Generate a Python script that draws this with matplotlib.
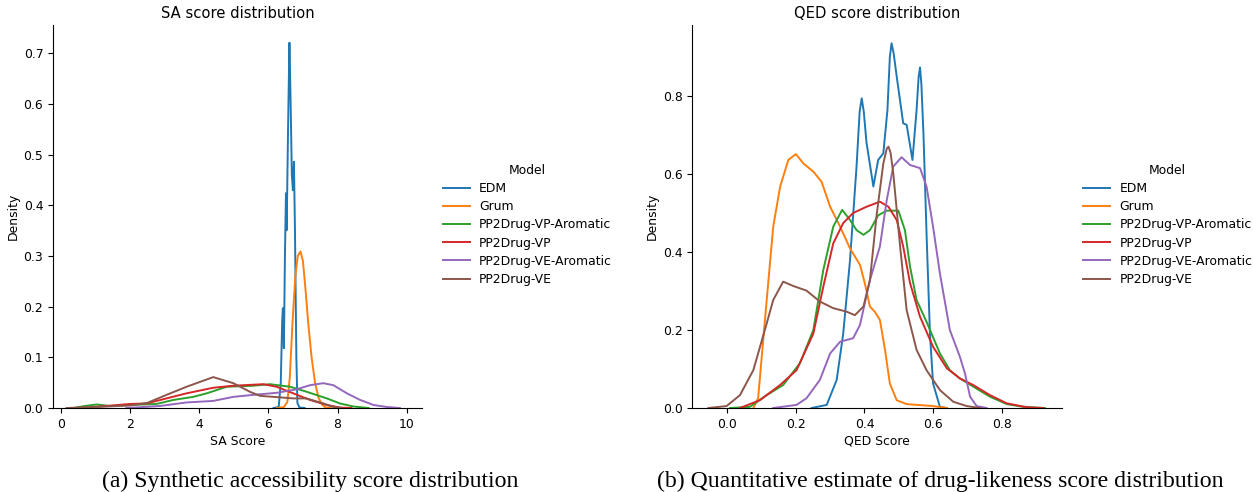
import matplotlib
matplotlib.use("Agg")
import matplotlib.pyplot as plt

# Data (density curves)
models = ["EDM", "Grum", "PP2Drug-VP-Aromatic", "PP2Drug-VP", "PP2Drug-VE-Aromatic", "PP2Drug-VE"]
colors = ["#1f77b4", "#ff7f0e", "#2ca02c", "#d62728", "#9467bd", "#8c564b"]

# SA score panel
sa_edm_x = [6.15, 6.30, 6.36, 6.40, 6.42, 6.45, 6.48, 6.51, 6.53, 6.57, 6.61, 6.64, 6.68, 6.71, 6.74, 6.77, 6.81, 6.84, 6.90, 7.05]
sa_edm_y = [0.0, 0.002, 0.05, 0.17, 0.197, 0.118, 0.30, 0.424, 0.351, 0.55, 0.721, 0.62, 0.46, 0.43, 0.486, 0.35, 0.10, 0.01, 0.001, 0.0]
sa_grum_x = [6.25, 6.45, 6.55, 6.62, 6.70, 6.78, 6.85, 6.93, 7.00, 7.08, 7.15, 7.25, 7.35, 7.45, 7.55, 7.65, 7.80]
sa_grum_y = [0.0, 0.002, 0.012, 0.06, 0.17, 0.26, 0.30, 0.309, 0.29, 0.23, 0.17, 0.10, 0.05, 0.02, 0.007, 0.001, 0.0]
sa_vpa_x = [0.37, 0.7, 1.04, 1.43, 2.0, 2.77, 3.26, 3.83, 4.22, 4.8, 5.57, 6.05, 6.63, 7.11, 7.69, 8.07, 8.46, 8.9]
sa_vpa_y = [0.0, 0.004, 0.007, 0.004, 0.006, 0.008, 0.016, 0.022, 0.029, 0.042, 0.044, 0.047, 0.042, 0.032, 0.019, 0.009, 0.003, 0.0]
sa_vp_x = [0.46, 1.14, 2.0, 2.49, 3.06, 3.64, 4.41, 4.99, 5.86, 6.24, 6.72, 7.2, 7.69, 8.07, 8.4]
sa_vp_y = [0.0, 0.003, 0.008, 0.009, 0.019, 0.029, 0.040, 0.044, 0.047, 0.042, 0.029, 0.016, 0.006, 0.001, 0.0]
sa_vea_x = [1.9, 2.87, 3.64, 4.41, 4.99, 5.57, 6.24, 6.82, 7.2, 7.59, 7.88, 8.27, 8.65, 9.04, 9.42, 9.8]
sa_vea_y = [0.0, 0.004, 0.011, 0.014, 0.022, 0.026, 0.030, 0.037, 0.045, 0.049, 0.045, 0.029, 0.016, 0.006, 0.002, 0.0]
sa_ve_x = [0.17, 1.0, 2.0, 2.5, 3.06, 3.64, 4.41, 4.99, 5.47, 5.76, 6.15, 6.72, 7.1, 7.59, 7.88, 8.1]
sa_ve_y = [0.0, 0.002, 0.005, 0.01, 0.026, 0.042, 0.061, 0.049, 0.032, 0.024, 0.022, 0.019, 0.019, 0.009, 0.002, 0.0]

# QED score panel
qed_edm_x = [0.246, 0.29, 0.319, 0.338, 0.358, 0.377, 0.386, 0.392, 0.398, 0.406, 0.426, 0.44, 0.455, 0.467, 0.474, 0.479, 0.485, 0.494, 0.513, 0.523, 0.54, 0.552, 0.558, 0.562, 0.566, 0.572, 0.581, 0.591, 0.60, 0.62, 0.64]
qed_edm_y = [0.0, 0.008, 0.072, 0.19, 0.38, 0.62, 0.76, 0.794, 0.76, 0.68, 0.568, 0.636, 0.653, 0.764, 0.90, 0.935, 0.91, 0.85, 0.73, 0.726, 0.636, 0.764, 0.85, 0.873, 0.83, 0.704, 0.448, 0.19, 0.063, 0.003, 0.0]
qed_grum_x = [0.076, 0.09, 0.115, 0.134, 0.154, 0.178, 0.20, 0.222, 0.251, 0.275, 0.30, 0.329, 0.358, 0.387, 0.401, 0.416, 0.43, 0.445, 0.46, 0.474, 0.494, 0.523, 0.60, 0.64]
qed_grum_y = [0.0, 0.025, 0.277, 0.465, 0.567, 0.636, 0.651, 0.627, 0.606, 0.58, 0.516, 0.465, 0.409, 0.367, 0.32, 0.26, 0.247, 0.226, 0.149, 0.063, 0.02, 0.01, 0.005, 0.0]
qed_vpa_x = [0.008, 0.066, 0.115, 0.163, 0.212, 0.251, 0.28, 0.309, 0.335, 0.358, 0.377, 0.397, 0.416, 0.44, 0.465, 0.499, 0.518, 0.533, 0.552, 0.581, 0.62, 0.649, 0.678, 0.717, 0.766, 0.815, 0.863, 0.926]
qed_vpa_y = [0.0, 0.003, 0.033, 0.059, 0.115, 0.20, 0.354, 0.465, 0.508, 0.482, 0.456, 0.444, 0.456, 0.494, 0.506, 0.506, 0.456, 0.362, 0.277, 0.221, 0.14, 0.097, 0.076, 0.055, 0.029, 0.01, 0.003, 0.0]
qed_vp_x = [0.037, 0.095, 0.154, 0.202, 0.251, 0.28, 0.309, 0.338, 0.367, 0.406, 0.445, 0.47, 0.494, 0.513, 0.533, 0.562, 0.60, 0.64, 0.678, 0.717, 0.766, 0.815, 0.873, 0.92]
qed_vp_y = [0.0, 0.02, 0.059, 0.097, 0.191, 0.311, 0.422, 0.474, 0.50, 0.516, 0.529, 0.516, 0.482, 0.414, 0.32, 0.234, 0.157, 0.102, 0.076, 0.059, 0.033, 0.012, 0.002, 0.0]
qed_vea_x = [0.134, 0.202, 0.231, 0.27, 0.30, 0.329, 0.367, 0.387, 0.416, 0.445, 0.465, 0.484, 0.508, 0.533, 0.562, 0.581, 0.60, 0.62, 0.649, 0.678, 0.693, 0.708, 0.727, 0.756]
qed_vea_y = [0.0, 0.008, 0.025, 0.072, 0.14, 0.17, 0.179, 0.213, 0.328, 0.414, 0.533, 0.619, 0.643, 0.623, 0.615, 0.568, 0.465, 0.345, 0.20, 0.132, 0.089, 0.029, 0.005, 0.0]
qed_ve_x = [-0.055, -0.002, 0.037, 0.076, 0.115, 0.134, 0.163, 0.192, 0.231, 0.27, 0.309, 0.348, 0.372, 0.397, 0.416, 0.435, 0.455, 0.465, 0.47, 0.476, 0.484, 0.504, 0.523, 0.552, 0.581, 0.62, 0.659, 0.698, 0.737]
qed_ve_y = [0.0, 0.005, 0.033, 0.097, 0.217, 0.277, 0.324, 0.313, 0.301, 0.273, 0.256, 0.247, 0.238, 0.26, 0.328, 0.491, 0.627, 0.665, 0.67, 0.655, 0.602, 0.414, 0.251, 0.149, 0.097, 0.046, 0.016, 0.005, 0.0]

sa_curves = [(sa_edm_x, sa_edm_y), (sa_grum_x, sa_grum_y), (sa_vpa_x, sa_vpa_y),
             (sa_vp_x, sa_vp_y), (sa_vea_x, sa_vea_y), (sa_ve_x, sa_ve_y)]
qed_curves = [(qed_edm_x, qed_edm_y), (qed_grum_x, qed_grum_y), (qed_vpa_x, qed_vpa_y),
              (qed_vp_x, qed_vp_y), (qed_vea_x, qed_vea_y), (qed_ve_x, qed_ve_y)]

FS = 8.9
plt.rcParams['font.family'] = 'DejaVu Sans'
plt.rcParams['font.size'] = FS

fig = plt.figure(figsize=(12.53, 4.92), dpi=100)
ax1 = fig.add_axes([0.0423, 0.1707, 0.2945, 0.7785])
ax2 = fig.add_axes([0.5525, 0.1707, 0.2948, 0.7785])


def draw(ax, curves, title, xlabel, xlim, ylim, xticks, yticks, legend_x):
    lines = []
    for (xs, ys), name, c in zip(curves, models, colors):
        ln, = ax.plot(xs, ys, color=c, lw=1.4, label=name)
        lines.append(ln)
    ax.set_xlim(*xlim)
    ax.set_ylim(*ylim)
    ax.set_xticks(xticks)
    ax.set_yticks(yticks)
    ax.set_title(title, fontsize=10.6, pad=5)
    ax.set_xlabel(xlabel, fontsize=FS, labelpad=3)
    ax.set_ylabel("Density", fontsize=FS, labelpad=3)
    ax.spines['top'].set_visible(False)
    ax.spines['right'].set_visible(False)
    ax.tick_params(labelsize=FS, length=3.5, width=0.8)
    fig.legend(handles=lines, title="Model", loc='center left', frameon=False,
               bbox_to_anchor=(legend_x, 0.543), fontsize=FS, title_fontsize=FS,
               labelspacing=0.42, handlelength=2.2, handletextpad=0.75)


draw(ax1, sa_curves, "SA score distribution", "SA Score", (-0.22, 10.44), (0, 0.756),
     [0, 2, 4, 6, 8, 10], [0.0, 0.1, 0.2, 0.3, 0.4, 0.5, 0.6, 0.7], 0.3444)
ax1.set_yticklabels(["0.0", "0.1", "0.2", "0.3", "0.4", "0.5", "0.6", "0.7"])
draw(ax2, qed_curves, "QED score distribution", "QED Score", (-0.102, 0.975), (0, 0.982),
     [0.0, 0.2, 0.4, 0.6, 0.8], [0.0, 0.2, 0.4, 0.6, 0.8], 0.8554)
ax2.set_xticklabels(["0.0", "0.2", "0.4", "0.6", "0.8"])
ax2.set_yticklabels(["0.0", "0.2", "0.4", "0.6", "0.8"])

fig.text(310.5 / 1253, 0.022, "(a) Synthetic accessibility score distribution",
         family='Liberation Serif', fontsize=17.1, ha='center', va='center')
fig.text(940.5 / 1253, 0.022, "(b) Quantitative estimate of drug-likeness score distribution",
         family='Liberation Serif', fontsize=17.1, ha='center', va='center')

fig.savefig("out.png", dpi=100)
